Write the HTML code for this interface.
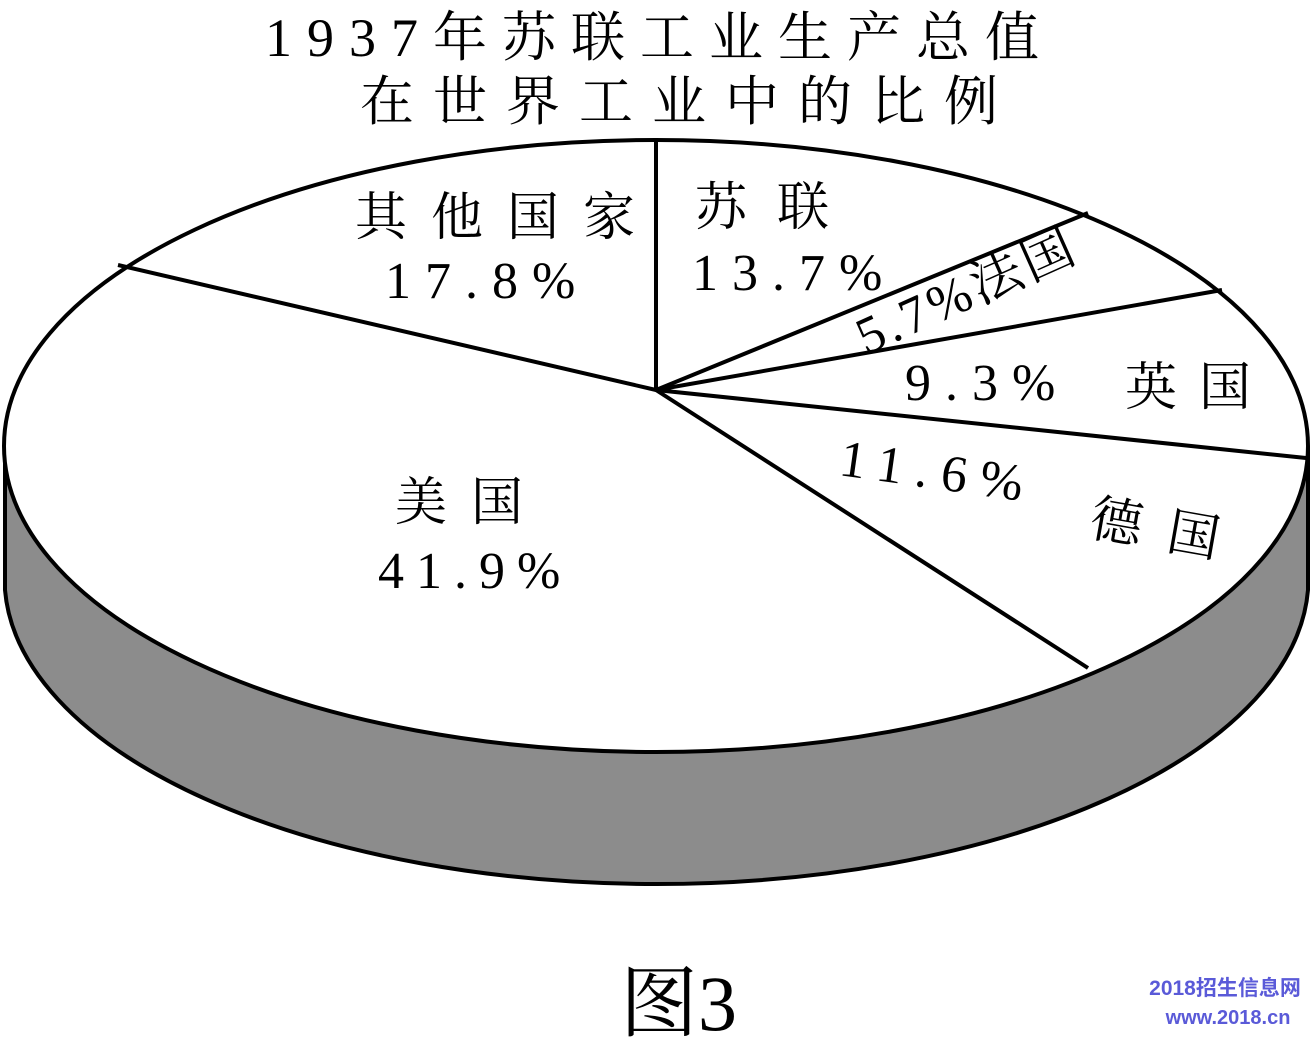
<!DOCTYPE html>
<html><head><meta charset="utf-8"><style>
html,body{margin:0;padding:0;background:#fff;}
svg text{font-family:"Liberation Serif","Noto Serif CJK SC",serif;fill:#000;}
</style></head><body>
<svg width="1311" height="1043" viewBox="0 0 1311 1043" xmlns="http://www.w3.org/2000/svg">
<path d="M5,446 L5,590 A652,306 0 0 0 1308,590 L1308,446 A652,306 0 0 1 5,446 Z" fill="#8c8c8c" stroke="#000" stroke-width="4"/>
<ellipse cx="656" cy="446" rx="652" ry="306" fill="#fff" stroke="#000" stroke-width="4"/>
<g stroke="#000" stroke-width="4" fill="none">
<line x1="656" y1="390" x2="656" y2="140"/>
<line x1="656" y1="390" x2="1088" y2="213"/>
<line x1="656" y1="390" x2="1222" y2="290"/>
<line x1="656" y1="390" x2="1306" y2="458"/>
<line x1="656" y1="390" x2="1088" y2="668"/>
<line x1="656" y1="390" x2="118" y2="265"/>
</g>
<text x="265" y="56" font-size="54" letter-spacing="15">1937年苏联工业生产总值</text>
<text x="360" y="120" font-size="54" letter-spacing="19">在世界工业中的比例</text>
<text x="355" y="235" font-size="52" letter-spacing="24">其他国家</text>
<text x="385" y="298" font-size="52" letter-spacing="14">17.8%</text>
<text x="695" y="225" font-size="52" letter-spacing="30">苏联</text>
<text x="692" y="290" font-size="52" letter-spacing="14">13.7%</text>
<text x="0" y="0" font-size="52" letter-spacing="4" transform="translate(866,355) rotate(-24)">5.7%法国</text>
<text x="905" y="400" font-size="52" letter-spacing="14">9.3%</text>
<text x="1125" y="405" font-size="52" letter-spacing="22">英国</text>
<text x="0" y="0" font-size="52" letter-spacing="13" transform="translate(838,475) rotate(8)">11.6%</text>
<text x="0" y="0" font-size="52" letter-spacing="26" transform="translate(1088,535) rotate(10)">德国</text>
<text x="395" y="520" font-size="52" letter-spacing="24">美国</text>
<text x="378" y="588" font-size="52" letter-spacing="12">41.9%</text>
<text x="620" y="1030" font-size="78">图3</text>
<text x="1225" y="995" font-size="21" text-anchor="middle" font-weight="bold" style="font-family:'Liberation Sans','Noto Sans CJK SC',sans-serif;fill:#5a5ad8">2018招生信息网</text>
<text x="1228" y="1024" font-size="20" text-anchor="middle" font-weight="bold" style="font-family:'Liberation Sans',sans-serif;fill:#5a5ad8">www.2018.cn</text>
</svg>
</body></html>
